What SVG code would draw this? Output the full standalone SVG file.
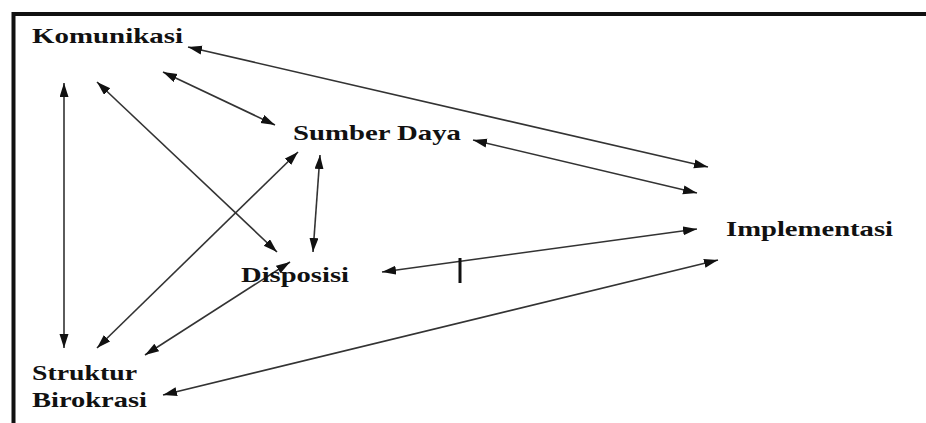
<svg xmlns="http://www.w3.org/2000/svg" width="926" height="423" viewBox="0 0 926 423">
<defs>
<marker id="ah" markerUnits="userSpaceOnUse" markerWidth="15" markerHeight="10" refX="14" refY="4.5" orient="auto-start-reverse">
<path d="M0,0 L14,4.5 L0,9 z" fill="#111"/>
</marker>
<style>
.lbl{font-family:"Liberation Serif","Times New Roman",serif;font-weight:bold;font-size:21px;fill:#111}
.c{stroke:#333;stroke-width:1.6;fill:none;marker-start:url(#ah);marker-end:url(#ah)}
</style>
</defs>
<rect width="926" height="423" fill="#fff"/>
<g id="frame">
<path d="M13.5,423 V14 H926" fill="none" stroke="#111" stroke-width="4"/>
</g>
<g id="connectors">
<line class="c" x1="188" y1="47" x2="708" y2="167"/>
<line class="c" x1="163" y1="72" x2="275" y2="125"/>
<line class="c" x1="97" y1="82" x2="277" y2="252"/>
<line class="c" x1="64" y1="83" x2="64" y2="348"/>
<line class="c" x1="473" y1="140" x2="697" y2="193"/>
<line class="c" x1="320" y1="155" x2="313" y2="252"/>
<line class="c" x1="298" y1="152" x2="97" y2="348"/>
<line class="c" x1="382" y1="272" x2="697" y2="229"/>
<line class="c" x1="290" y1="262" x2="145" y2="355"/>
<line class="c" x1="163" y1="395" x2="718" y2="260"/>
<line x1="460" y1="258" x2="460" y2="283" stroke="#111" stroke-width="3"/>
</g>
<g id="komunikasi"><text class="lbl" x="32" y="43" textLength="151" lengthAdjust="spacingAndGlyphs">Komunikasi</text></g>
<g id="sumber-daya"><text class="lbl" x="293" y="140" textLength="168" lengthAdjust="spacingAndGlyphs">Sumber Daya</text></g>
<g id="implementasi"><text class="lbl" x="726" y="236" textLength="167" lengthAdjust="spacingAndGlyphs">Implementasi</text></g>
<g id="disposisi"><text class="lbl" x="241" y="282" textLength="108" lengthAdjust="spacingAndGlyphs">Disposisi</text></g>
<g id="struktur-birokrasi"><text class="lbl" x="32" y="380" textLength="105" lengthAdjust="spacingAndGlyphs">Struktur</text><text class="lbl" x="32" y="407" textLength="115" lengthAdjust="spacingAndGlyphs">Birokrasi</text></g>
</svg>
